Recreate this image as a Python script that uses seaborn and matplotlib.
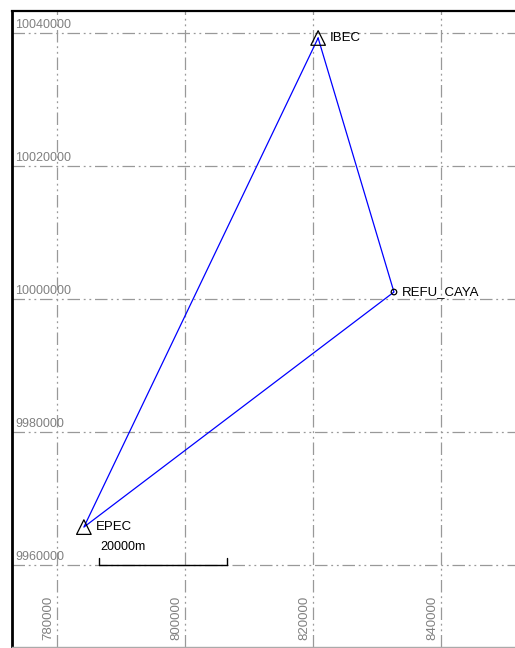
import numpy as np
import pandas as pd
import matplotlib
matplotlib.use("Agg")
import matplotlib.pyplot as plt
import matplotlib.transforms as mtransforms
import seaborn as sns

# station coordinates (easting / northing, m)
stations = ["IBEC", "REFU_CAYA", "EPEC"]
east = [820800, 832650, 784200]
north = [10039250, 10001050, 9965700]
markers = ["^", "o", "^"]

# baselines (closed loop)
loop = ["IBEC", "REFU_CAYA", "EPEC", "IBEC"]

x_ticks = [780000, 800000, 820000, 840000]
y_ticks = [9960000, 9980000, 10000000, 10020000, 10040000]
scale_len = 20000

sns.set_style("white")
plt.rcParams['font.family'] = ['Liberation Sans', 'DejaVu Sans']

fig = plt.figure(figsize=(5.15, 6.48), dpi=100)
ax = fig.add_axes([12 / 515, 1 / 648, 503 / 515, 636 / 648])

df = pd.DataFrame({"station": stations, "east": east, "north": north})
pos = df.set_index("station")
lines = pd.DataFrame({"east": [pos.loc[s, "east"] for s in loop],
                      "north": [pos.loc[s, "north"] for s in loop],
                      "order": range(len(loop))})

sns.lineplot(data=lines, x="east", y="north", sort=False, estimator=None,
             color="#0000ff", lw=0.9, ax=ax, zorder=3)

for s, m in zip(stations, markers):
    sub = df[df.station == s]
    size = 110 if m == "^" else 16
    sns.scatterplot(data=sub, x="east", y="north", marker=m, s=size,
                    facecolor="none", edgecolor="black", linewidth=0.9,
                    ax=ax, zorder=4, legend=False)
    dx = 1800 if m == "^" else 1300
    ax.text(sub.east.iloc[0] + dx, sub.north.iloc[0], s, fontsize=9.5,
            va="center", ha="left", color="black", zorder=5)

ax.set_xlim(772970, 851560)
ax.set_ylim(9947670, 10043310)

gray = "#999999"
for xv in x_ticks:
    ax.axvline(xv, color=gray, lw=0.9, dashes=(10, 3, 1.5, 3, 1.5, 3), zorder=1)
for yv in y_ticks:
    ax.axhline(yv, color=gray, lw=0.9, dashes=(10, 3, 1.5, 3, 1.5, 3), zorder=1)

ax.set_xticks([])
ax.set_yticks([])
ax.set_xlabel("")
ax.set_ylabel("")

ty = mtransforms.blended_transform_factory(ax.transAxes, ax.transData)
for yv in y_ticks:
    ax.text(0.006, yv + 300, str(yv), transform=ty, fontsize=9, color="#808080",
            ha="left", va="bottom")
tx = mtransforms.blended_transform_factory(ax.transData, ax.transAxes)
for xv in x_ticks:
    ax.text(xv - 450, 0.011, str(xv), transform=tx, fontsize=9.5, color="#808080",
            rotation=90, ha="right", va="bottom")

# scale bar
sx0 = 786560
sy = 9960000
ax.plot([sx0, sx0 + scale_len], [sy, sy], color="black", lw=1, zorder=5)
for xv in [sx0, sx0 + scale_len]:
    ax.plot([xv, xv], [sy, sy + 1000], color="black", lw=1, zorder=5)
ax.text(sx0 + 200, sy + 1800, "%dm" % scale_len, fontsize=9, color="black",
        ha="left", va="bottom", zorder=5)

for side in ["left", "top", "right", "bottom"]:
    ax.spines[side].set_visible(True)
ax.spines["left"].set_color("black")
ax.spines["left"].set_linewidth(2)
ax.spines["top"].set_color("black")
ax.spines["top"].set_linewidth(1.6)
ax.spines["right"].set_visible(False)
ax.spines["bottom"].set_color("#aaaaaa")
ax.spines["bottom"].set_linewidth(1)

fig.savefig("out.png", dpi=100)
